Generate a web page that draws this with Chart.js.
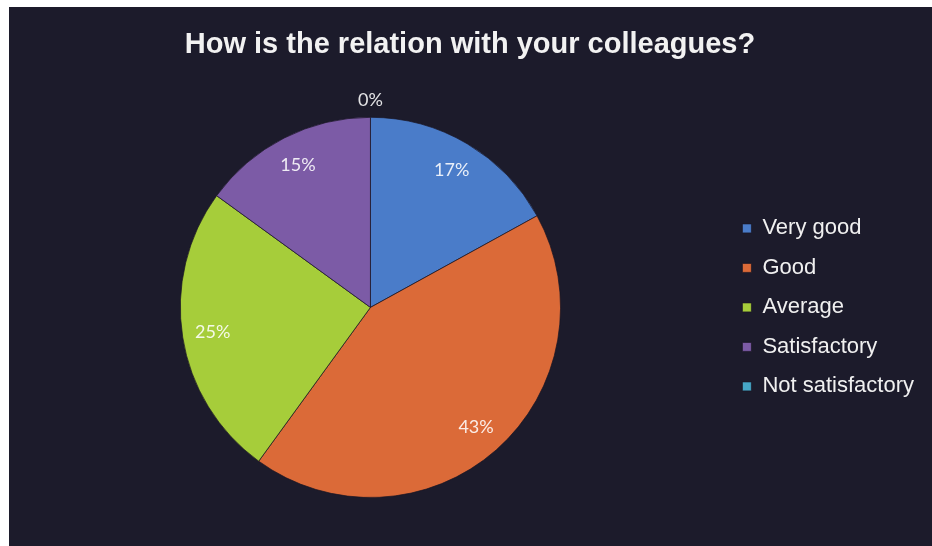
<!DOCTYPE html>
<html>
<head>
<meta charset="utf-8">
<script src="https://cdn.jsdelivr.net/npm/chart.js"></script>
<style>
  html, body { margin: 0; padding: 0; background: #ffffff; }
  #frame {
    position: absolute; left: 9px; top: 7px;
    width: 923px; height: 539px;
    background: #1c1b2b;
  }
</style>
</head>
<body>
<div id="frame"><canvas id="pie"></canvas></div>
<script>
// Survey answers: "How is the relation with your colleagues?"
const categories = ['Very good', 'Good', 'Average', 'Satisfactory', 'Not satisfactory'];
const shares = [17, 43, 25, 15, 0];               // percent of respondents
const percentLabels = shares.map(v => v + '%');
const sliceColors = ['#4a7cc9', '#db6a38', '#a6cd3a', '#7c5ba6', '#46a6c6'];

// Writes the percentage on each slice; empty slices get it just outside the rim.
const sliceLabels = {
  id: 'sliceLabels',
  afterDatasetsDraw(chart) {
    const ctx = chart.ctx;
    const meta = chart.getDatasetMeta(0);
    ctx.save();
    ctx.font = '18px Lato, "Open Sans", sans-serif';
    ctx.textAlign = 'center';
    ctx.textBaseline = 'middle';
    ctx.fillStyle = 'rgba(255,255,255,0.88)';
    meta.data.forEach((arc, i) => {
      const p = arc.getProps(['x', 'y', 'startAngle', 'endAngle', 'outerRadius'], true);
      const mid = (p.startAngle + p.endAngle) / 2;
      const r = shares[i] > 0 ? p.outerRadius * 0.84 : p.outerRadius + 17;
      ctx.fillText(percentLabels[i], p.x + r * Math.cos(mid), p.y + r * Math.sin(mid));
    });
    ctx.restore();
  }
};

new Chart(document.getElementById('pie'), {
  type: 'pie',
  data: {
    labels: categories,
    datasets: [{
      data: shares,
      backgroundColor: sliceColors,
      borderColor: 'rgba(25,22,35,0.7)',
      borderWidth: 1
    }]
  },
  options: {
    responsive: true,
    maintainAspectRatio: false,
    animation: false,
    layout: { padding: { left: 7, right: 8, top: 0, bottom: 48 } },
    plugins: {
      title: {
        display: true,
        text: 'How is the relation with your colleagues?',
        color: '#f2f2f2',
        font: { family: '"Liberation Sans", Arial, sans-serif', size: 29, weight: 'bold', lineHeight: 1.2 },
        padding: { top: 21, bottom: 54 }
      },
      legend: {
        position: 'right',
        fullSize: false,
        labels: {
          color: '#f0f0f0',
          font: { family: '"Liberation Sans", Arial, sans-serif', size: 22 },
          boxWidth: 9,
          boxHeight: 9,
          padding: 17.5
        }
      },
      tooltip: { enabled: false }
    }
  },
  plugins: [sliceLabels]
});
</script>
</body>
</html>
